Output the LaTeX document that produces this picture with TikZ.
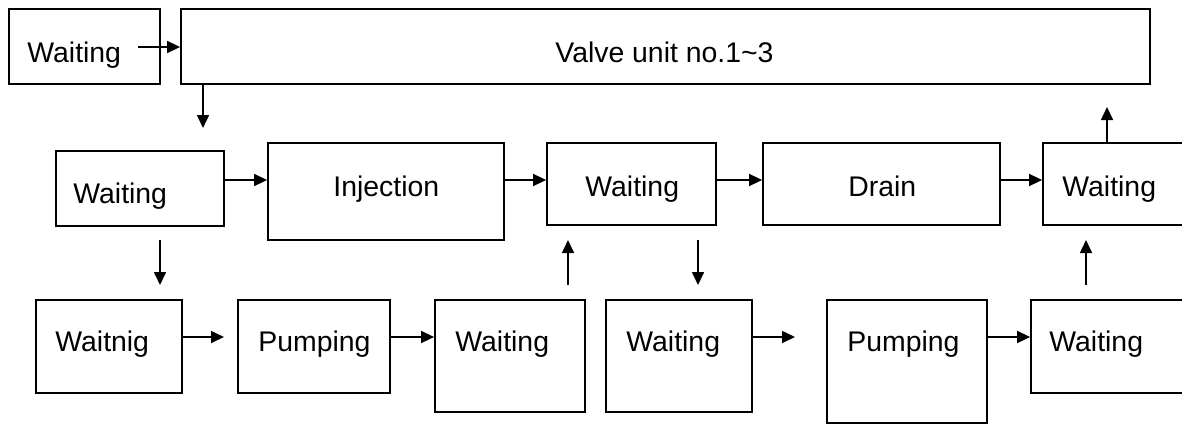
\documentclass[tikz,border=0pt]{standalone}
\usepackage{fontspec}
\setmainfont{Liberation Sans}
\usetikzlibrary{arrows.meta}

\begin{document}
\begin{tikzpicture}[
    x=0.5pt, y=-0.5pt,
    box/.style={draw, line width=0.9pt, inner sep=0pt},
    tag/.style={anchor=base west,
                inner sep=0pt,
                font=\fontsize{14.2}{17}\selectfont},
    flow/.style={-{Triangle[length=6.5pt,width=6pt]}, line width=0.8pt}
]
\clip (0,0) rectangle (1182,424);

% valve row
\node[box, minimum width=75.5pt, minimum height=37.5pt] (wt0) at (84.5,46.5) {};
\node[box, minimum width=484.5pt, minimum height=37.5pt] (valve) at (665.5,46.5) {};
\node[tag] (t-wt0) at (27,62) {Waiting};
\node[tag] (t-valve) at (555,62) {Valve unit no.1\textasciitilde 3};

% main row
\node[box, minimum width=84pt, minimum height=37.5pt] (wt1) at (140,188.5) {};
\node[box, minimum width=118pt, minimum height=48.5pt] (inj) at (386,191.5) {};
\node[box, minimum width=84.5pt, minimum height=41pt] (wt2) at (631.5,184) {};
\node[box, minimum width=118.5pt, minimum height=41pt] (drain) at (881.5,184) {};
\node[box, minimum width=78.5pt, minimum height=41pt] (wt3) at (1121.5,184) {};
\node[tag] (t-wt1) at (73,203) {Waiting};
\node[tag] (t-inj) at (333,196) {Injection};
\node[tag] (t-wt2) at (585,196) {Waiting};
\node[tag] (t-drain) at (848,196) {Drain};
\node[tag] (t-wt3) at (1062,196) {Waiting};

% pumping row
\node[box, minimum width=73pt, minimum height=46.5pt] (wn) at (109,346.5) {};
\node[box, minimum width=76pt, minimum height=46.5pt] (pump1) at (314,346.5) {};
\node[box, minimum width=75pt, minimum height=56pt] (wt4) at (510,356) {};
\node[box, minimum width=73pt, minimum height=56pt] (wt5) at (679,356) {};
\node[box, minimum width=80pt, minimum height=61.5pt] (pump2) at (907,361.5) {};
\node[box, minimum width=84.5pt, minimum height=46.5pt] (wt6) at (1115.5,346.5) {};
\node[tag] (t-wn) at (55,351) {Waitnig};
\node[tag] (t-pump1) at (258,351) {Pumping};
\node[tag] (t-wt4) at (455,351) {Waiting};
\node[tag] (t-wt5) at (626,351) {Waiting};
\node[tag] (t-pump2) at (847,351) {Pumping};
\node[tag] (t-wt6) at (1049,351) {Waiting};

% row levels and loose arrow ends
\coordinate (r1) at (138,47);
\coordinate (r2) at (0,180);
\coordinate (r3) at (0,337);
\coordinate (v1) at (203,128);
\coordinate (u1) at (1107,107);
\coordinate (d1a) at (160,240);
\coordinate (d1b) at (160,285);
\coordinate (u2a) at (568,285);
\coordinate (u2b) at (568,240);
\coordinate (d2a) at (698,240);
\coordinate (d2b) at (698,285);
\coordinate (u3a) at (1086,285);
\coordinate (u3b) at (1086,240);
\coordinate (p1) at (224,337);
\coordinate (p2) at (795,337);

\draw[flow] (r1) -- (valve.west |- r1);
\draw[flow] (valve.south -| v1) -- (v1);
\draw[flow] (wt3.north -| u1) -- (u1);

\draw[flow] (wt1.east |- r2) -- (inj.west |- r2);
\draw[flow] (inj.east |- r2) -- (wt2.west |- r2);
\draw[flow] (wt2.east |- r2) -- (drain.west |- r2);
\draw[flow] (drain.east |- r2) -- (wt3.west |- r2);

\draw[flow] (d1a) -- (d1b);
\draw[flow] (u2a) -- (u2b);
\draw[flow] (d2a) -- (d2b);
\draw[flow] (u3a) -- (u3b);

\draw[flow] (wn.east |- r3) -- (p1);
\draw[flow] (pump1.east |- r3) -- (wt4.west |- r3);
\draw[flow] (wt5.east |- r3) -- (p2);
\draw[flow] (pump2.east |- r3) -- (wt6.west |- r3);
\end{tikzpicture}
\end{document}
